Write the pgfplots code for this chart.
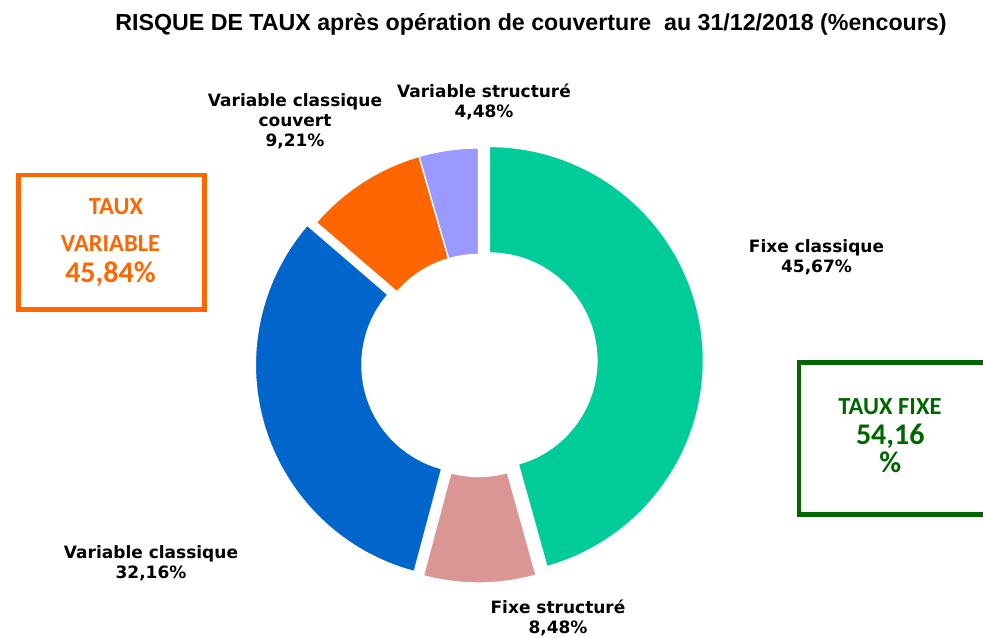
\documentclass[border=0pt]{standalone}
\usepackage{pgfplots}
\pgfplotsset{compat=1.18}
\usepackage{pgfplotstable}
\usepackage{fontspec}
\setmainfont{DejaVu Sans}
\newfontfamily\titlefont{Liberation Sans}
\newfontfamily\boxfont{Carlito}

\definecolor{c0}{HTML}{00CC99}
\definecolor{c1}{HTML}{D99694}
\definecolor{c2}{HTML}{0066CC}
\definecolor{c3}{HTML}{FF6600}
\definecolor{c4}{HTML}{9999FF}
\definecolor{fixgreen}{HTML}{006600}

% share (%) and explosion offset (px) of each slice, clockwise from 12 o'clock
\pgfplotstableread[col sep=comma]{
label,value,explode
Fixe classique,45.67,11
Fixe structuré,8.48,7
Variable classique,32.16,9.5
Variable classique couvert,9.21,0
Variable structuré,4.48,0
}\donut

\begin{document}
\begin{tikzpicture}
\useasboundingbox (0,0) rectangle (737.25pt,478.5pt);
\begin{axis}[x=0.75pt,y=0.75pt,xmin=0,xmax=983,ymin=0,ymax=638,
  hide axis,clip=false,scale only axis]
  \def\cx{478.5}\def\cy{276}
  \def\Rout{214}\def\Rin{107.5}
  \xdef\angA{90}
  \pgfplotsinvokeforeach{0,...,4}{
    \pgfplotstablegetelem{#1}{value}\of\donut \let\val\pgfplotsretval
    \pgfplotstablegetelem{#1}{explode}\of\donut \let\ex\pgfplotsretval
    \pgfmathsetmacro\angB{\angA-3.6*\val}
    \pgfmathsetmacro\angM{(\angA+\angB)/2}
    \pgfmathsetmacro\px{\cx+\ex*cos(\angM)}
    \pgfmathsetmacro\py{\cy+\ex*sin(\angM)}
    \pgfmathsetmacro\ox{\px+\Rout*cos(\angA)}
    \pgfmathsetmacro\oy{\py+\Rout*sin(\angA)}
    \pgfmathsetmacro\ix{\px+\Rin*cos(\angB)}
    \pgfmathsetmacro\iy{\py+\Rin*sin(\angB)}
    \edef\slice{\noexpand\filldraw[fill=c#1,draw=white,line width=1pt]
      (axis cs:\ox,\oy) arc[start angle=\angA,end angle=\angB,radius=\Rout*0.75pt]
      -- (axis cs:\ix,\iy) arc[start angle=\angB,end angle=\angA,radius=\Rin*0.75pt] -- cycle;}
    \slice
    \xdef\angA{\angB}
  }

  % title
  \node[font=\titlefont\bfseries\fontsize{17.4pt}{20pt}\selectfont] at (axis cs:531,614)
    {RISQUE DE TAUX après opération de couverture\ \ au 31/12/2018 (\%encours)};

  % slice labels
  \tikzset{lbl/.style={align=center,font=\bfseries\fontsize{12.75pt}{15pt}\selectfont}}
  \node[lbl] at (axis cs:484,536) {Variable structuré\\4,48\%};
  \node[lbl] at (axis cs:295,517) {Variable classique\\couvert\\9,21\%};
  \node[lbl] at (axis cs:816.5,381) {Fixe classique\\45,67\%};
  \node[lbl] at (axis cs:151,75) {Variable classique\\32,16\%};
  \node[lbl] at (axis cs:558,20) {Fixe structuré\\8,48\%};

  % summary boxes
  \draw[c3,line width=3.4pt] (axis cs:18.3,463) rectangle (axis cs:204.5,328.5);
  \node[c3,anchor=base,font=\boxfont\bfseries\fontsize{18.4pt}{22pt}\selectfont] at (axis cs:116,423) {TAUX};
  \node[c3,anchor=base,font=\boxfont\bfseries\fontsize{18.4pt}{22pt}\selectfont] at (axis cs:110.5,386.3) {VARIABLE};
  \node[c3,anchor=base,font=\boxfont\bfseries\fontsize{22.5pt}{26pt}\selectfont] at (axis cs:110.5,355) {45,84\%};

  \draw[fixgreen,line width=3.5pt] (axis cs:995,275.7) -- (axis cs:799,275.7)
    -- (axis cs:799,123.7) -- (axis cs:995,123.7);
  \node[fixgreen,anchor=base,font=\boxfont\bfseries\fontsize{18.4pt}{22pt}\selectfont] at (axis cs:890,223) {TAUX FIXE};
  \node[fixgreen,align=center,inner sep=1pt,
    font=\boxfont\bfseries\fontsize{22.5pt}{21.5pt}\selectfont] at (axis cs:890.3,189.5) {54,16\\\%};
\end{axis}
\end{tikzpicture}
\end{document}
